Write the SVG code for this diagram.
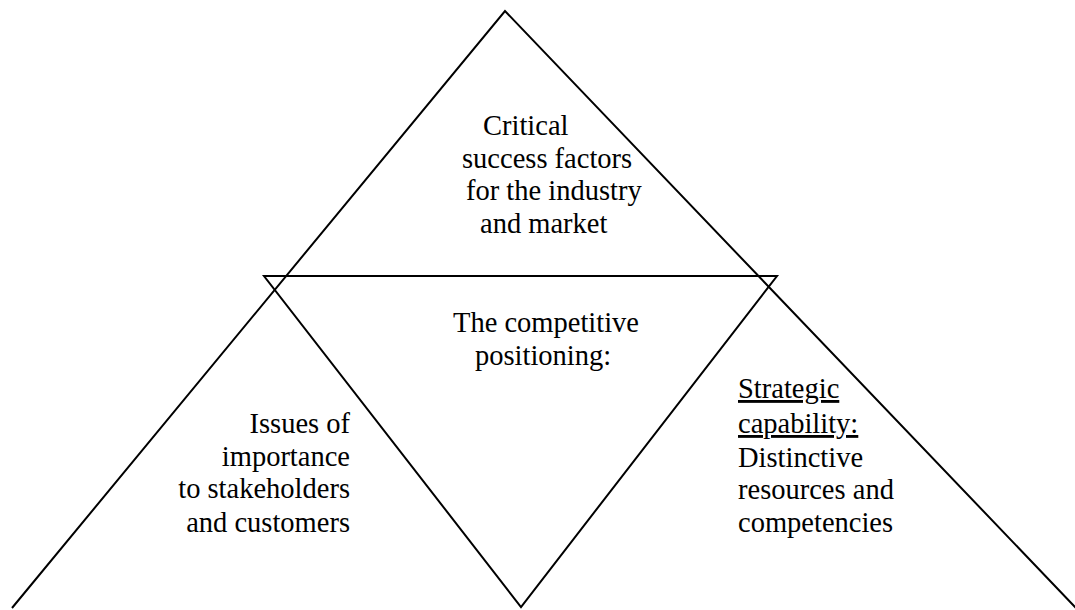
<svg xmlns="http://www.w3.org/2000/svg" width="1075" height="610" viewBox="0 0 1075 610">
  <style>
    .edge { fill: none; stroke: #000; stroke-width: 2; stroke-linejoin: miter; }
    .label { font-family: 'Liberation Serif', 'DejaVu Serif', 'Times New Roman', serif; font-size: 28.5px; fill: #000; }
    .ul { text-decoration: underline; }
  </style>
  <rect width="1075" height="610" fill="#fff"/>

  <!-- outline shapes: large upright triangle and the inverted inner triangle -->
  <g id="connectors">
    <polyline class="edge" points="12,608 505,11 1076,608"/>
    <polygon class="edge" points="264,276 777,276 521,607"/>
  </g>

  <g id="top-factors" font-family="Liberation Serif, serif">
    <text class="label" x="483" y="135">Critical</text>
    <text class="label" x="462" y="168">success factors</text>
    <text class="label" x="466" y="200">for the industry</text>
    <text class="label" x="480" y="233">and market</text>
  </g>

  <g id="competitive-positioning" font-family="Liberation Serif, serif">
    <text class="label" x="453" y="332">The competitive</text>
    <text class="label" x="475" y="365">positioning:</text>
  </g>

  <g id="stakeholder-issues" font-family="Liberation Serif, serif">
    <text class="label" x="350" y="433" text-anchor="end">Issues of</text>
    <text class="label" x="350" y="466" text-anchor="end">importance</text>
    <text class="label" x="350" y="498" text-anchor="end">to stakeholders</text>
    <text class="label" x="350" y="532" text-anchor="end">and customers</text>
  </g>

  <g id="strategic-capability" font-family="Liberation Serif, serif">
    <text class="label ul" x="738" y="398">Strategic</text>
    <text class="label ul" x="738" y="433">capability:</text>
    <text class="label" x="738" y="467">Distinctive</text>
    <text class="label" x="738" y="499">resources and</text>
    <text class="label" x="738" y="532">competencies</text>
  </g>
</svg>
